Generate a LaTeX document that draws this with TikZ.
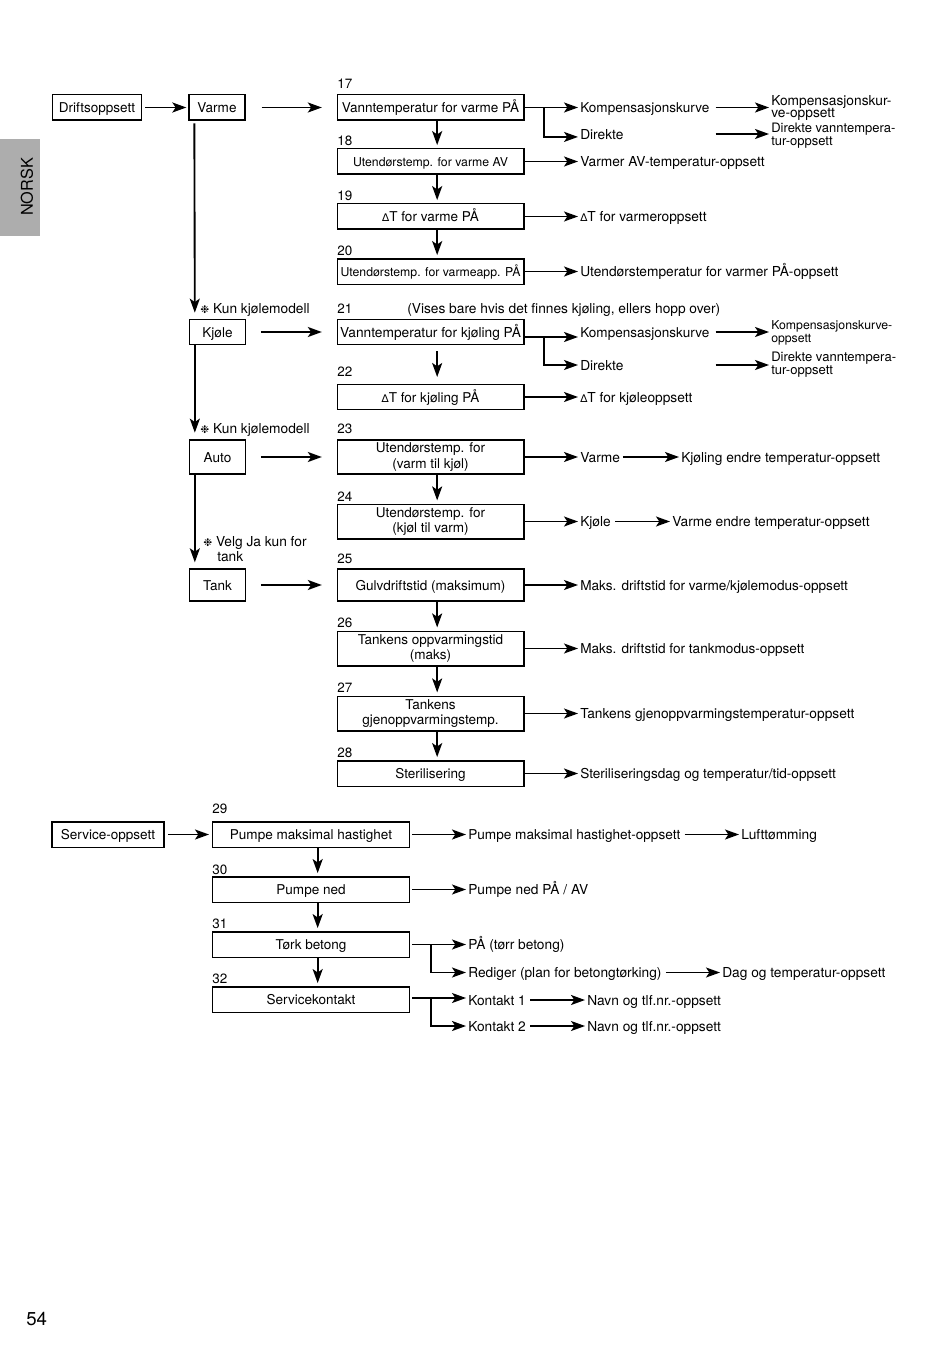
\documentclass[tikz,border=0pt]{standalone}
\usepackage{fontspec}
\setmainfont{TeX Gyre Heros}
\newfontfamily\symfont{DejaVu Sans}
\usetikzlibrary{arrows.meta}

\newcommand{\snow}{{\symfont\fontsize{8}{8}\selectfont ❉}}
\newcommand{\dT}{{\symfont\fontsize{8}{8}\selectfont ∆}T}

\tikzset{
    oneline/.style={text height=9.2pt, text depth=1pt},
    twolines/.style={text height=, text depth=, execute at begin node={\rule{0pt}{11pt}}},
    widebox/.style={draw, line width=1pt, inner sep=0pt, minimum width=140pt, minimum height=19pt, align=center, oneline, font=\fontsize{10.15}{11.4}\selectfont},
    servicebox/.style={widebox, minimum width=148pt},
    smallbox/.style={widebox, minimum width=42pt},
    numlabel/.style={anchor=west, inner sep=0pt, oneline, font=\fontsize{10.1}{11}\selectfont},
    textlabel/.style={anchor=west, inner sep=0pt, align=left, oneline, font=\fontsize{10.3}{9.6}\selectfont},
    flow/.style={-{Stealth[length=10.5pt,width=7.5pt,inset=2.5pt]}, line width=1.4pt, shorten >=1.5pt},
    thinflow/.style={flow, line width=1pt},
    down/.style={flow, shorten >=2.3pt}
}

\begin{document}
\begin{tikzpicture}[x=.75pt, y=-.75pt]

    \useasboundingbox (0,0) rectangle (950,1348);

    % side tab and page number
    \fill[black!32] (0,139) rectangle (40,236);
    \node[rotate=90, inner sep=0pt, font=\fontsize{12.2}{13}\selectfont] (tab) at (27,187) {NORSK};
    \node[numlabel, font=\fontsize{14}{15}\selectfont] (page) at (26,1320) {54};

    % first column
    \node[widebox, minimum width=67pt] (drift) at (97,107.5) {Driftsoppsett};
    \node[smallbox] (varme) at (217,107.5) {Varme};
    \node[smallbox] (kjole) at (217.5,332) {Kjøle};
    \node[smallbox, minimum height=25.5pt] (auto) at (217.5,457) {Auto};
    \node[smallbox, minimum height=24pt] (tank) at (217.5,585) {Tank};
    \node[widebox, minimum width=84pt] (service) at (108,834.5) {Service-oppsett};

    \node[textlabel] (notekjole) at (200,308.5) {\snow\ Kun kjølemodell};
    \node[textlabel] (noteauto) at (200,428) {\snow\ Kun kjølemodell};
    \node[textlabel, twolines, font=\fontsize{10.3}{11.3}\selectfont] (notetank) at (203,549.5) {\snow\ Velg Ja kun for\\\hspace*{10.5pt}tank};

    % numbers
    \node[numlabel] (n17) at (337,83) {17};
    \node[numlabel] (n18) at (337,140) {18};
    \node[numlabel] (n19) at (337,195) {19};
    \node[numlabel] (n20) at (337,250) {20};
    \node[numlabel] (n21) at (337,308) {21};
    \node[numlabel] (n22) at (337,371) {22};
    \node[numlabel] (n23) at (337,428) {23};
    \node[numlabel] (n24) at (337,496) {24};
    \node[numlabel] (n25) at (337,558) {25};
    \node[numlabel] (n26) at (337,622) {26};
    \node[numlabel] (n27) at (337,687) {27};
    \node[numlabel] (n28) at (337,752) {28};
    \node[numlabel] (n29) at (212,808) {29};
    \node[numlabel] (n30) at (212,869) {30};
    \node[numlabel] (n31) at (212,923) {31};
    \node[numlabel] (n32) at (212,978) {32};
    \node[textlabel] (vises) at (407,308) {(Vises bare hvis det finnes kjøling, ellers hopp over)};

    % middle column
    \node[widebox] (b17) at (430.5,107.5) {Vanntemperatur for varme PÅ};
    \node[widebox, font=\fontsize{9.2}{11}\selectfont] (b18) at (430.5,161.5) {Utendørstemp. for varme AV};
    \node[widebox] (b19) at (430.5,216.5) {\dT\ for varme PÅ};
    \node[widebox, font=\fontsize{9.2}{11}\selectfont] (b20) at (430.5,271.5) {Utendørstemp. for varmeapp. PÅ};
    \node[widebox, font=\fontsize{10.3}{11}\selectfont] (b21) at (430.5,332) {Vanntemperatur for kjøling PÅ};
    \node[widebox] (b22) at (430.5,397) {\dT\ for kjøling PÅ};
    \node[widebox, twolines, minimum height=25.5pt] (b23) at (430.5,457) {Utendørstemp. for\\(varm til kjøl)};
    \node[widebox, twolines, minimum height=26pt] (b24) at (430.5,521.5) {Utendørstemp. for\\(kjøl til varm)};
    \node[widebox, minimum height=24pt] (b25) at (430.5,585) {Gulvdriftstid (maksimum)};
    \node[widebox, twolines, minimum height=26pt] (b26) at (430.5,648.5) {Tankens oppvarmingstid\\(maks)};
    \node[widebox, twolines, minimum height=26pt] (b27) at (430.5,713.5) {Tankens\\gjenoppvarmingstemp.};
    \node[widebox] (b28) at (430.5,773.5) {Sterilisering};

    \node[servicebox] (b29) at (311,834.5) {Pumpe maksimal hastighet};
    \node[servicebox] (b30) at (311,889.5) {Pumpe ned};
    \node[servicebox] (b31) at (311,944.5) {Tørk betong};
    \node[servicebox] (b32) at (311,999.5) {Servicekontakt};

    % right labels
    \node[textlabel, font=\fontsize{10.15}{9.2}\selectfont] (komp17) at (580,107.5) {Kompensasjonskurve};
    \node[textlabel, twolines] (kompset17) at (771,108) {Kompensasjonskur-\\ve-oppsett};
    \node[textlabel] (dir17) at (580,134) {Direkte};
    \node[textlabel, twolines, font=\fontsize{9.75}{9.6}\selectfont] (dirset17) at (771,136) {Direkte vanntempera-\\tur-oppsett};
    \node[textlabel] (t18) at (580,161.5) {Varmer AV-temperatur-oppsett};
    \node[textlabel] (t19) at (580,216.5) {\dT\ for varmeroppsett};
    \node[textlabel] (t20) at (580,271.5) {Utendørstemperatur for varmer PÅ-oppsett};
    \node[textlabel, font=\fontsize{10.15}{9.2}\selectfont] (komp21) at (580,332) {Kompensasjonskurve};
    \node[textlabel, twolines, font=\fontsize{9.2}{9.6}\selectfont] (kompset21) at (771,333) {Kompensasjonskurve-\\oppsett};
    \node[textlabel] (dir21) at (580,365) {Direkte};
    \node[textlabel, twolines, font=\fontsize{9.8}{9.9}\selectfont] (dirset21) at (771,365) {Direkte vanntempera-\\tur-oppsett};
    \node[textlabel] (t22) at (580,397) {\dT\ for kjøleoppsett};
    \node[textlabel] (t23) at (580,457) {Varme};
    \node[textlabel] (tt23) at (681,457) {Kjøling endre temperatur-oppsett};
    \node[textlabel] (t24) at (580,521.5) {Kjøle};
    \node[textlabel] (tt24) at (672,521.5) {Varme endre temperatur-oppsett};
    \node[textlabel, font=\fontsize{10.2}{9.6}\selectfont] (t25) at (580,585) {Maks. driftstid for varme/kjølemodus-oppsett};
    \node[textlabel, font=\fontsize{10.2}{9.6}\selectfont] (t26) at (580,648.5) {Maks. driftstid for tankmodus-oppsett};
    \node[textlabel] (t27) at (580,713.5) {Tankens gjenoppvarmingstemperatur-oppsett};
    \node[textlabel, font=\fontsize{10.2}{9.6}\selectfont] (t28) at (580,773.5) {Steriliseringsdag og temperatur/tid-oppsett};

    \node[textlabel, font=\fontsize{10.2}{9.6}\selectfont] (t29) at (468,834.5) {Pumpe maksimal hastighet-oppsett};
    \node[textlabel] (tt29) at (741,834.5) {Lufttømming};
    \node[textlabel] (t30) at (468,889.5) {Pumpe ned PÅ / AV};
    \node[textlabel] (t31) at (468,944.5) {PÅ (tørr betong)};
    \node[textlabel] (r31) at (468,972.5) {Rediger (plan for betongtørking)};
    \node[textlabel] (rr31) at (722,972.5) {Dag og temperatur-oppsett};
    \node[textlabel] (k1) at (468,1000) {Kontakt 1};
    \node[textlabel] (kk1) at (587,1000) {Navn og tlf.nr.-oppsett};
    \node[textlabel] (k2) at (468,1026) {Kontakt 2};
    \node[textlabel] (kk2) at (587,1026) {Navn og tlf.nr.-oppsett};

    % branch points
    \coordinate (fork17) at (544,107.5);
    \coordinate (fork21) at (544,337);
    \coordinate (fork31) at (431,944.5);
    \coordinate (fork32) at (431,998);

    % first column arrows
    \draw[flow, shorten <=2.3pt] (drift) -- (varme);
    \draw[flow, shorten <=12pt, shorten >=11pt] (varme) -- (b17);
    \draw[flow, shorten <=11pt, shorten >=11pt] (kjole) -- (b21);
    \draw[flow, shorten <=11pt, shorten >=11pt] (auto) -- (b23);
    \draw[flow, shorten <=11pt, shorten >=11pt] (tank) -- (b25);
    \draw[flow, shorten <=2.5pt, shorten >=2pt] (service) -- (b29);
    \draw[flow, shorten <=2pt, shorten >=4.5pt] ([xshift=4.5pt]varme.south west) -- ([xshift=4.5pt]kjole.north west);
    \draw[flow, shorten >=5pt] ([xshift=4.5pt]kjole.south west) -- ([xshift=4.5pt]auto.north west);
    \draw[flow, shorten >=4.5pt] ([xshift=4.5pt]auto.south west) -- ([xshift=4.5pt]tank.north west);

    % down arrows
    \draw[down] ([xshift=5pt]b17.south) -- ([xshift=5pt]b18.north);
    \draw[down] ([xshift=5pt]b18.south) -- ([xshift=5pt]b19.north);
    \draw[down] ([xshift=5pt]b19.south) -- ([xshift=5pt]b20.north);
    \draw[down, shorten <=4.5pt, shorten >=5pt] ([xshift=5pt]b21.south) -- ([xshift=5pt]b22.north);
    \draw[down] ([xshift=5pt]b23.south) -- ([xshift=5pt]b24.north);
    \draw[down] ([xshift=5pt]b25.south) -- ([xshift=5pt]b26.north);
    \draw[down] ([xshift=5pt]b26.south) -- ([xshift=5pt]b27.north);
    \draw[down] ([xshift=5pt]b27.south) -- ([xshift=5pt]b28.north);
    \draw[down] ([xshift=5pt]b29.south) -- ([xshift=5pt]b30.north);
    \draw[down] ([xshift=5pt]b30.south) -- ([xshift=5pt]b31.north);
    \draw[down] ([xshift=5pt]b31.south) -- ([xshift=5pt]b32.north);

    % right arrows
    \draw[flow] (b17.east) -- (komp17.west);
    \draw[thinflow] (fork17) |- ([yshift=-2.2pt]dir17.west);
    \draw[flow, shorten <=4.5pt] (komp17.east) -- (kompset17.west |- komp17.east);
    \draw[flow, shorten <=69pt] (dir17.east) -- (dirset17.west |- dir17.east);
    \draw[flow] (b18.east) -- (t18.west);
    \draw[thinflow] (b19.east) -- (t19.west);
    \draw[thinflow] (b20.east) -- (t20.west);
    \draw[flow] (b21.east |- fork21) -- (fork21) -- ([yshift=-3.75pt]komp21.west);
    \draw[thinflow] (fork21) |- (dir21.west);
    \draw[flow, shorten <=4.5pt] (komp21.east) -- (kompset21.west |- komp21.east);
    \draw[flow, shorten <=69pt] (dir21.east) -- (dirset21.west);
    \draw[flow] (b22.east) -- (t22.west);
    \draw[thinflow] (b23.east) -- (t23.west);
    \draw[thinflow, shorten <=2pt] (t23.east) -- (tt23.west);
    \draw[thinflow] (b24.east) -- (t24.west);
    \draw[thinflow, shorten <=3pt] (t24.east) -- (tt24.west);
    \draw[thinflow] (b25.east) -- (t25.west);
    \draw[thinflow] (b26.east) -- (t26.west);
    \draw[thinflow] (b27.east) -- (t27.west);
    \draw[flow] (b28.east) -- (t28.west);

    \draw[flow, shorten <=1.5pt] (b29.east) -- (t29.west);
    \draw[flow, shorten <=3pt] (t29.east) -- (tt29.west);
    \draw[thinflow, shorten <=1.5pt] (b30.east) -- (t30.west);
    \draw[thinflow, shorten <=1.5pt] (b31.east) -- (t31.west);
    \draw[flow] (fork31) |- (r31.west);
    \draw[thinflow, shorten <=3pt] (r31.east) -- (rr31.west);
    \draw[thinflow, shorten <=1.5pt] (b32.east |- fork32) -- (fork32) -- ([yshift=1.5pt]k1.west);
    \draw[flow] (fork32) |- (k2.west);
    \draw[flow, shorten <=3pt] (k1.east) -- (kk1.west);
    \draw[thinflow, shorten <=3pt] (k2.east) -- (kk2.west);

\end{tikzpicture}
\end{document}
